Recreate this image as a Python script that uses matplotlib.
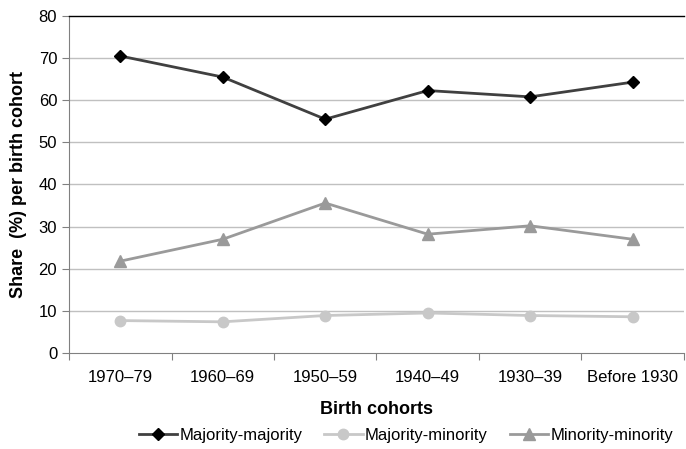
import matplotlib.pyplot as plt
import numpy as np

plt.rcParams['font.family'] = ['Liberation Sans', 'DejaVu Sans']

cohorts = ['1970–79', '1960–69', '1950–59', '1940–49', '1930–39', 'Before 1930']
maj_maj = [70.5, 65.5, 55.5, 62.3, 60.8, 64.3]
maj_min = [7.7, 7.4, 8.9, 9.5, 8.9, 8.6]
min_min = [21.8, 27.0, 35.6, 28.2, 30.2, 27.0]

fig = plt.figure(figsize=(6.86, 4.49), dpi=100)
ax = fig.add_axes([0.1006, 0.2138, 0.8964, 0.7506])

x = np.arange(len(cohorts))
ax.plot(x, maj_maj, color='#404040', lw=2, marker='D', ms=6.5, mfc='black', mec='black',
        label='Majority-majority', zorder=3)
ax.plot(x, maj_min, color='#c8c8c8', lw=2, marker='o', ms=7.5, mfc='#c8c8c8', mec='#c8c8c8',
        label='Majority-minority', zorder=3)
ax.plot(x, min_min, color='#9a9a9a', lw=2, marker='^', ms=8, mfc='#9a9a9a', mec='#9a9a9a',
        label='Minority-minority', zorder=3)

ax.set_xlim(-0.5, len(cohorts) - 0.5)
ax.set_ylim(0, 80)
ax.set_yticks(range(0, 81, 10))
ax.set_xticks(np.arange(-0.5, len(cohorts), 1.0))
ax.set_xticklabels([])
ax.set_xticks(x, minor=True)
ax.set_xticklabels(cohorts, minor=True)
ax.tick_params(axis='x', which='major', length=5, color='#808080', direction='out')
ax.tick_params(axis='x', which='minor', length=0, pad=12, labelsize=12)
ax.tick_params(axis='y', length=5, color='#808080', labelsize=12)

for y in range(10, 80, 10):
    ax.axhline(y, color='#c0c0c0', lw=1, zorder=1)

ax.spines['top'].set_color('black')
ax.spines['top'].set_linewidth(1)
ax.spines['right'].set_visible(False)
ax.spines['left'].set_color('#808080')
ax.spines['bottom'].set_color('#808080')

ax.set_xlabel('Birth cohorts', fontsize=13, fontweight='bold', labelpad=12)
ax.set_ylabel('Share  (%) per birth cohort', fontsize=13, fontweight='bold', labelpad=8)

ax.legend(loc='upper center', bbox_to_anchor=(0.548, -0.222), ncol=3, frameon=False,
          fontsize=12, handlelength=2.3, handletextpad=0.15, columnspacing=1.3,
          borderaxespad=0, borderpad=0)

fig.savefig('out.png', dpi=100)
